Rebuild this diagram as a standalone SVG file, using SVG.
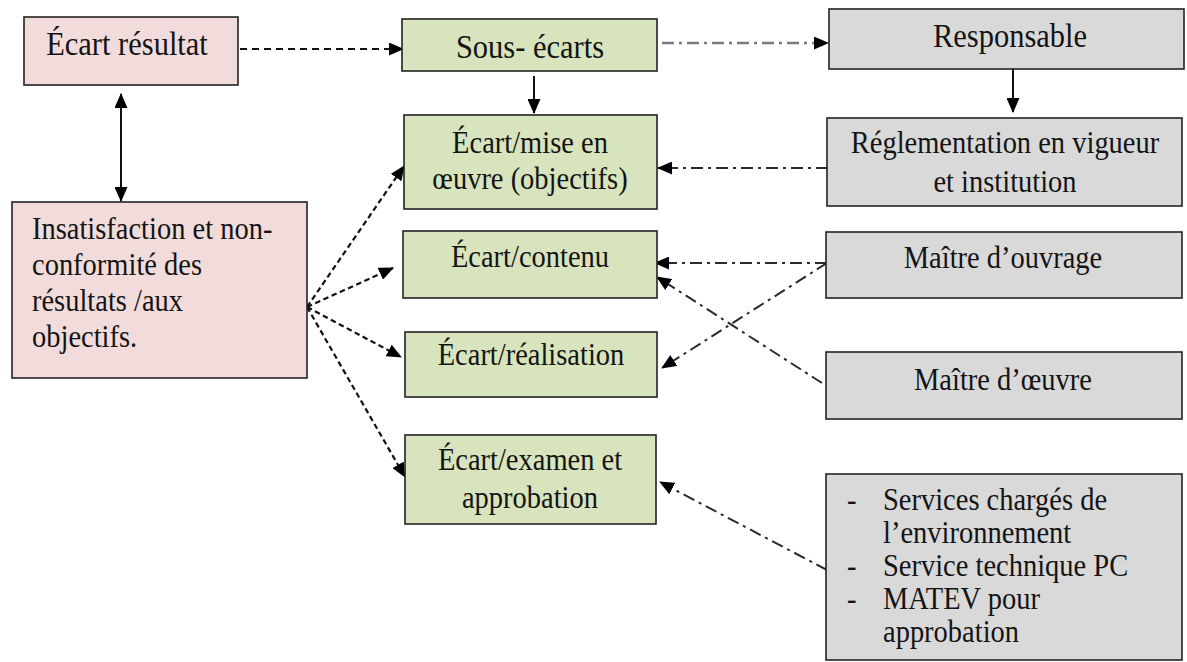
<svg xmlns="http://www.w3.org/2000/svg" width="1187" height="662" viewBox="0 0 1187 662">
<style>
.box{stroke:#222;stroke-width:1.6}
.pink{fill:#f2dcdb}
.green{fill:#d7e4bd}
.gray{fill:#d9d9d9}
.t{fill:#141414;font-size:28.5px}
.big{font-size:30.5px}
.c{text-anchor:middle}
.solid{stroke:#111;stroke-width:2;fill:none}
.dash{stroke:#111;stroke-width:2.2;fill:none;stroke-dasharray:7 5}
.dashf{stroke:#111;stroke-width:2.2;fill:none;stroke-dasharray:5.5 3.5}
.dd{stroke:#2a2a2a;stroke-width:2;fill:none;stroke-dasharray:12 5 3 5}
.ddg{stroke:#7a7a7a;stroke-width:2.4;fill:none;stroke-dasharray:12 5 3 5}
</style>
<defs>
<marker id="ah" markerUnits="userSpaceOnUse" markerWidth="15" markerHeight="13" refX="14" refY="6.5" orient="auto-start-reverse">
<path d="M0,0 L15,6.5 L0,13 Z" fill="#000"/>
</marker>
</defs>
<g id="connectors">
<line class="solid" x1="121" y1="94" x2="121" y2="201" marker-start="url(#ah)" marker-end="url(#ah)"/>
<line class="dash" x1="240" y1="49" x2="403" y2="49" marker-end="url(#ah)"/>
<line class="solid" x1="534" y1="76" x2="534" y2="113" marker-end="url(#ah)"/>
<line class="solid" x1="1013" y1="69" x2="1013" y2="112" marker-end="url(#ah)"/>
<line class="ddg" x1="662" y1="43" x2="828" y2="43" marker-end="url(#ah)"/>
<line class="dd" x1="828" y1="168" x2="658" y2="168" marker-end="url(#ah)"/>
<line class="dashf" x1="307" y1="307" x2="404" y2="166" marker-end="url(#ah)"/>
<line class="dashf" x1="307" y1="307" x2="393" y2="268" marker-end="url(#ah)"/>
<line class="dashf" x1="307" y1="307" x2="401" y2="357" marker-end="url(#ah)"/>
<line class="dashf" x1="307" y1="307" x2="405" y2="477" marker-end="url(#ah)"/>
<line class="dd" x1="827" y1="263" x2="655" y2="263" marker-end="url(#ah)"/>
<line class="dd" x1="827" y1="263" x2="662" y2="368" marker-end="url(#ah)"/>
<line class="dd" x1="822" y1="383" x2="657" y2="277" marker-end="url(#ah)"/>
<line class="dd" x1="827" y1="570" x2="660" y2="482" marker-end="url(#ah)"/>
</g>
<g font-family="'Liberation Serif', serif">
<g id="ecart-resultat">
<rect class="box pink" x="24" y="17" width="214" height="68"/>
<text class="t big c" transform="translate(127 55) scale(1 1.1)">Écart résultat</text>
</g>
<g id="insatisfaction">
<rect class="box pink" x="12" y="202" width="295" height="176"/>
<text class="t" transform="translate(32 239) scale(1 1.1)">Insatisfaction et non-</text>
<text class="t" transform="translate(32 275) scale(1 1.1)">conformité des</text>
<text class="t" transform="translate(32 311) scale(1 1.1)">résultats /aux</text>
<text class="t" transform="translate(32 347) scale(1 1.1)">objectifs.</text>
</g>
<g id="sous-ecarts">
<rect class="box green" x="402" y="19" width="255" height="52"/>
<text class="t big c" transform="translate(530 58) scale(1 1.1)">Sous- écarts</text>
</g>
<g id="ecart-mise">
<rect class="box green" x="404" y="115" width="253" height="94"/>
<text class="t c" transform="translate(530 153) scale(1 1.1)">Écart/mise en</text>
<text class="t c" transform="translate(530 189) scale(1 1.1)">œuvre (objectifs)</text>
</g>
<g id="ecart-contenu">
<rect class="box green" x="403" y="231" width="254" height="67"/>
<text class="t c" transform="translate(530 267) scale(1 1.1)">Écart/contenu</text>
</g>
<g id="ecart-realisation">
<rect class="box green" x="405" y="332" width="252" height="65"/>
<text class="t c" transform="translate(531 365) scale(1 1.1)">Écart/réalisation</text>
</g>
<g id="ecart-examen">
<rect class="box green" x="405" y="435" width="251" height="89"/>
<text class="t c" transform="translate(530 470) scale(1 1.1)">Écart/examen et</text>
<text class="t c" transform="translate(530 508) scale(1 1.1)">approbation</text>
</g>
<g id="responsable">
<rect class="box gray" x="829" y="9" width="355" height="60"/>
<text class="t big c" transform="translate(1010 47) scale(1 1.1)">Responsable</text>
</g>
<g id="reglementation">
<rect class="box gray" x="827" y="118" width="355" height="88"/>
<text class="t c" transform="translate(1005 153) scale(1 1.1)">Réglementation en vigueur</text>
<text class="t c" transform="translate(1005 192) scale(1 1.1)">et institution</text>
</g>
<g id="maitre-ouvrage">
<rect class="box gray" x="826" y="232" width="356" height="66"/>
<text class="t c" transform="translate(1003 268) scale(1 1.1)">Maître d’ouvrage</text>
</g>
<g id="maitre-oeuvre">
<rect class="box gray" x="826" y="352" width="356" height="67"/>
<text class="t c" transform="translate(1003 390) scale(1 1.1)">Maître d’œuvre</text>
</g>
<g id="services">
<rect class="box gray" x="826" y="474" width="356" height="186"/>
<text class="t" transform="translate(847 510) scale(1 1.1)">-</text>
<text class="t" transform="translate(883 510) scale(1 1.1)">Services chargés de</text>
<text class="t" transform="translate(883 543) scale(1 1.1)">l’environnement</text>
<text class="t" transform="translate(847 576) scale(1 1.1)">-</text>
<text class="t" transform="translate(883 576) scale(1 1.1)">Service technique PC</text>
<text class="t" transform="translate(847 609) scale(1 1.1)">-</text>
<text class="t" transform="translate(883 609) scale(1 1.1)">MATEV pour</text>
<text class="t" transform="translate(883 642) scale(1 1.1)">approbation</text>
</g>
</g>
</svg>
